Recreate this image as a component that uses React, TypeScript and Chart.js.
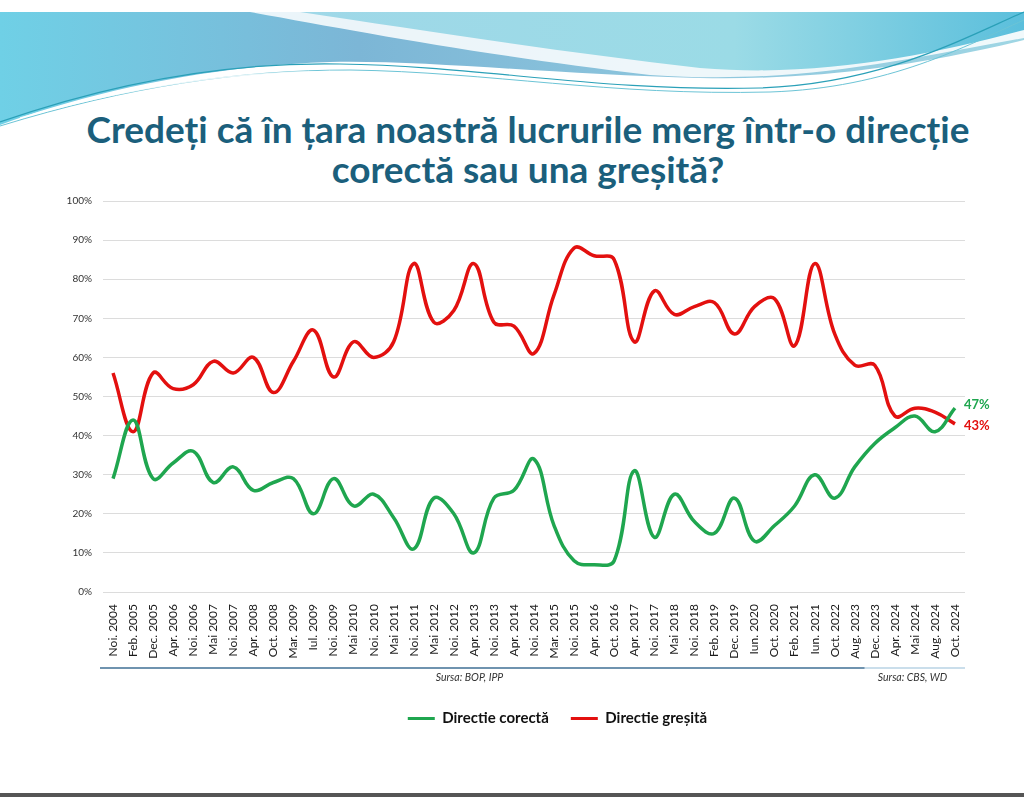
import React, { useEffect, useRef } from "react";
import { Chart, registerables } from "chart.js";

Chart.register(...registerables);

const categories = [
  "Noi. 2004", "Feb. 2005", "Dec. 2005", "Apr. 2006", "Noi. 2006", "Mai 2007", "Noi. 2007",
  "Apr. 2008", "Oct. 2008", "Mar. 2009", "Iul. 2009", "Noi. 2009", "Mai 2010", "Noi. 2010",
  "Mai 2011", "Noi. 2011", "Mai 2012", "Noi. 2012", "Apr. 2013", "Noi. 2013", "Apr. 2014",
  "Noi. 2014", "Mar. 2015", "Noi. 2015", "Apr. 2016", "Oct. 2016", "Apr. 2017", "Noi. 2017",
  "Mai 2018", "Noi. 2018", "Feb. 2019", "Dec. 2019", "Iun. 2020", "Oct. 2020", "Feb. 2021",
  "Iun. 2021", "Oct. 2022", "Aug. 2023", "Dec. 2023", "Apr. 2024", "Mai 2024", "Aug. 2024",
  "Oct. 2024",
];

const directieCorecta = [
  29, 44, 29, 33, 36, 28, 32, 26, 28, 29, 20, 29, 22, 25, 19, 11, 24, 20, 10, 24, 26, 34,
  17, 8, 7, 8, 31, 14, 25, 18, 15, 24, 13, 17, 22, 30, 24, 32, 38, 42, 45, 41, 47,
];

const directieGresita = [
  56, 41, 56, 52, 53, 59, 56, 60, 51, 59, 67, 55, 64, 60, 64, 84, 69, 72, 84, 69, 68, 61,
  76, 88, 86, 85, 64, 77, 71, 73, 74, 66, 73, 75, 63, 84, 66, 58, 58, 45, 47, 46, 43,
];

const yTicks = [0, 10, 20, 30, 40, 50, 60, 70, 80, 90, 100];

const GREEN = "#1fa64f";
const RED = "#e3100f";
const FONT = "Lato, 'Noto Sans', sans-serif";

const overlayPlugin = {
  id: "overlay",
  afterLayout(chart: any) {
    const lg = chart.legend;
    if (lg) {
      lg.left += 55;
      lg.right += 55;
      if (lg.legendHitBoxes) lg.legendHitBoxes.forEach((b: any) => (b.left += 55));
    }
  },
  afterDraw(chart: any) {
    const { ctx, scales } = chart;
    const x = scales.x;
    const y = scales.y;
    ctx.save();
    // separator line under x labels
    const lineY = x.top + 76;
    ctx.lineWidth = 1.5;
    ctx.strokeStyle = "#3f6f95";
    ctx.beginPath();
    ctx.moveTo(x.left - 3, lineY);
    ctx.lineTo(x.getPixelForValue(37) + 10, lineY);
    ctx.stroke();
    ctx.strokeStyle = "#b9d3e4";
    ctx.beginPath();
    ctx.moveTo(x.getPixelForValue(37) + 10, lineY);
    ctx.lineTo(x.right, lineY);
    ctx.stroke();
    // sources
    ctx.font = "italic 10.5px " + FONT;
    ctx.fillStyle = "#333";
    ctx.textBaseline = "middle";
    ctx.textAlign = "left";
    ctx.fillText("Sursa: BOP, IPP", x.getPixelForValue(16) + 2, lineY + 10);
    ctx.fillText("Sursa: CBS, WD", x.getPixelForValue(38) + 3, lineY + 10);
    // end labels
    const last = categories.length - 1;
    const px = x.getPixelForValue(last) + 9;
    ctx.font = "bold 13px " + FONT;
    ctx.fillStyle = GREEN;
    ctx.fillText(directieCorecta[last] + "%", px, y.getPixelForValue(directieCorecta[last]) - 3);
    ctx.fillStyle = RED;
    ctx.fillText(directieGresita[last] + "%", px, y.getPixelForValue(directieGresita[last]) + 2);
    ctx.restore();
  },
};

function Header() {
  return (
    <svg width="1024" height="200" style={{ position: "absolute", left: 0, top: 0 }}>
      <defs>
        <linearGradient id="gA" x1="0" y1="0" x2="1" y2="0">
          <stop offset="0" stopColor="#6fd0e6" />
          <stop offset="0.35" stopColor="#7cb6d6" />
          <stop offset="1" stopColor="#9fd6e4" />
        </linearGradient>
        <linearGradient id="gB" x1="0" y1="0" x2="1" y2="0">
          <stop offset="0" stopColor="#9fd8e8" />
          <stop offset="0.6" stopColor="#9bdbe6" />
          <stop offset="1" stopColor="#5bbfdc" />
        </linearGradient>
      </defs>
      <path d="M0,12 L1024,12 L1024,40 C900,70 800,80 700,78 C560,75 430,60 330,62 C200,66 80,95 0,125 Z" fill="url(#gA)" />
      <path d="M250,12 C350,30 480,55 650,75 C800,85 900,60 1024,38 L1024,12 Z" fill="#ffffff" opacity="0.85" />
      <path d="M300,12 C420,30 560,52 700,68 C820,78 930,55 1024,30 L1024,12 Z" fill="url(#gB)" />
      <path d="M0,122 C120,80 230,62 340,64 C480,66 600,92 760,88 C880,84 960,40 1024,12" fill="none" stroke="#2aa0b8" strokeWidth="1.2" />
      <path d="M0,126 C130,86 240,70 350,70 C490,72 610,96 770,92 C890,88 965,46 1024,20" fill="none" stroke="#6cc4d6" strokeWidth="1" />
      <path d="M20,118 C140,84 250,68 360,72 C500,76 620,98 780,94" fill="none" stroke="#ffffff" strokeWidth="1.5" opacity="0.8" />
    </svg>
  );
}

export default function App() {
  const ref = useRef<HTMLCanvasElement | null>(null);

  useEffect(() => {
    if (!ref.current) return;
    const chart = new Chart(ref.current, {
      type: "line",
      data: {
        labels: categories,
        datasets: [
          {
            label: "Directie corectă",
            data: directieCorecta,
            borderColor: GREEN,
            backgroundColor: GREEN,
            borderWidth: 3.5,
            pointRadius: 0,
            tension: 0.4,
            fill: false,
          },
          {
            label: "Directie greșită",
            data: directieGresita,
            borderColor: RED,
            backgroundColor: RED,
            borderWidth: 3.5,
            pointRadius: 0,
            tension: 0.4,
            fill: false,
          },
        ],
      },
      plugins: [overlayPlugin],
      options: {
        animation: false,
        responsive: false,
        maintainAspectRatio: false,
        layout: { padding: { left: 40, right: 59, top: 201, bottom: 61 } },
        plugins: {
          legend: {
            display: true,
            position: "bottom",
            labels: {
              font: { family: FONT, size: 15, weight: "bold" },
              color: "#111",
              boxWidth: 27,
              boxHeight: 3,
              padding: 22,
              generateLabels: (c: any) =>
                c.data.datasets.map((d: any, i: number) => ({
                  text: d.label,
                  fillStyle: d.borderColor,
                  strokeStyle: d.borderColor,
                  lineWidth: 0,
                  hidden: false,
                  datasetIndex: i,
                  fontColor: "#111",
                })),
            },
          },
          title: { display: false },
          tooltip: { enabled: false },
        },
        scales: {
          x: {
            offset: true,
            grid: { display: false },
            border: { display: false },
            ticks: {
              autoSkip: false,
              maxRotation: 90,
              minRotation: 90,
              font: { family: FONT, size: 12 },
              color: "#1a1a1a",
              padding: 4,
            },
            afterFit: (s: any) => {
              s.height = 97;
            },
          },
          y: {
            min: 0,
            max: 100,
            afterBuildTicks: (s: any) => {
              s.ticks = yTicks.map((v) => ({ value: v }));
            },
            grid: { color: "#dcdcdc", lineWidth: 1, drawTicks: false },
            border: { display: false },
            ticks: {
              callback: (v: any) => v + "%",
              font: { family: FONT, size: 10 },
              color: "#333",
              padding: 11,
            },
            afterFit: (s: any) => {
              s.width = 63;
            },
          },
        },
      },
    });
    return () => chart.destroy();
  }, []);

  return (
    <div style={{ position: "absolute", left: 0, top: 0, width: 1024, height: 797, background: "#fff", overflow: "hidden" }}>
      <Header />
      <div
        style={{
          position: "absolute",
          left: 0,
          width: 1056,
          top: 109,
          textAlign: "center",
          fontFamily: FONT,
          fontWeight: 700,
          fontSize: 37,
          lineHeight: "40px",
          color: "#1b5f7c",
        }}
      >
        Credeți că în țara noastră lucrurile merg într-o direcție
        <br />
        corectă sau una greșită?
      </div>
      <canvas ref={ref} width={1024} height={797} style={{ position: "absolute", left: 0, top: 0, width: 1024, height: 797 }} />
      <div style={{ position: "absolute", left: 0, top: 793, width: 1024, height: 4, background: "#555" }} />
    </div>
  );
}
